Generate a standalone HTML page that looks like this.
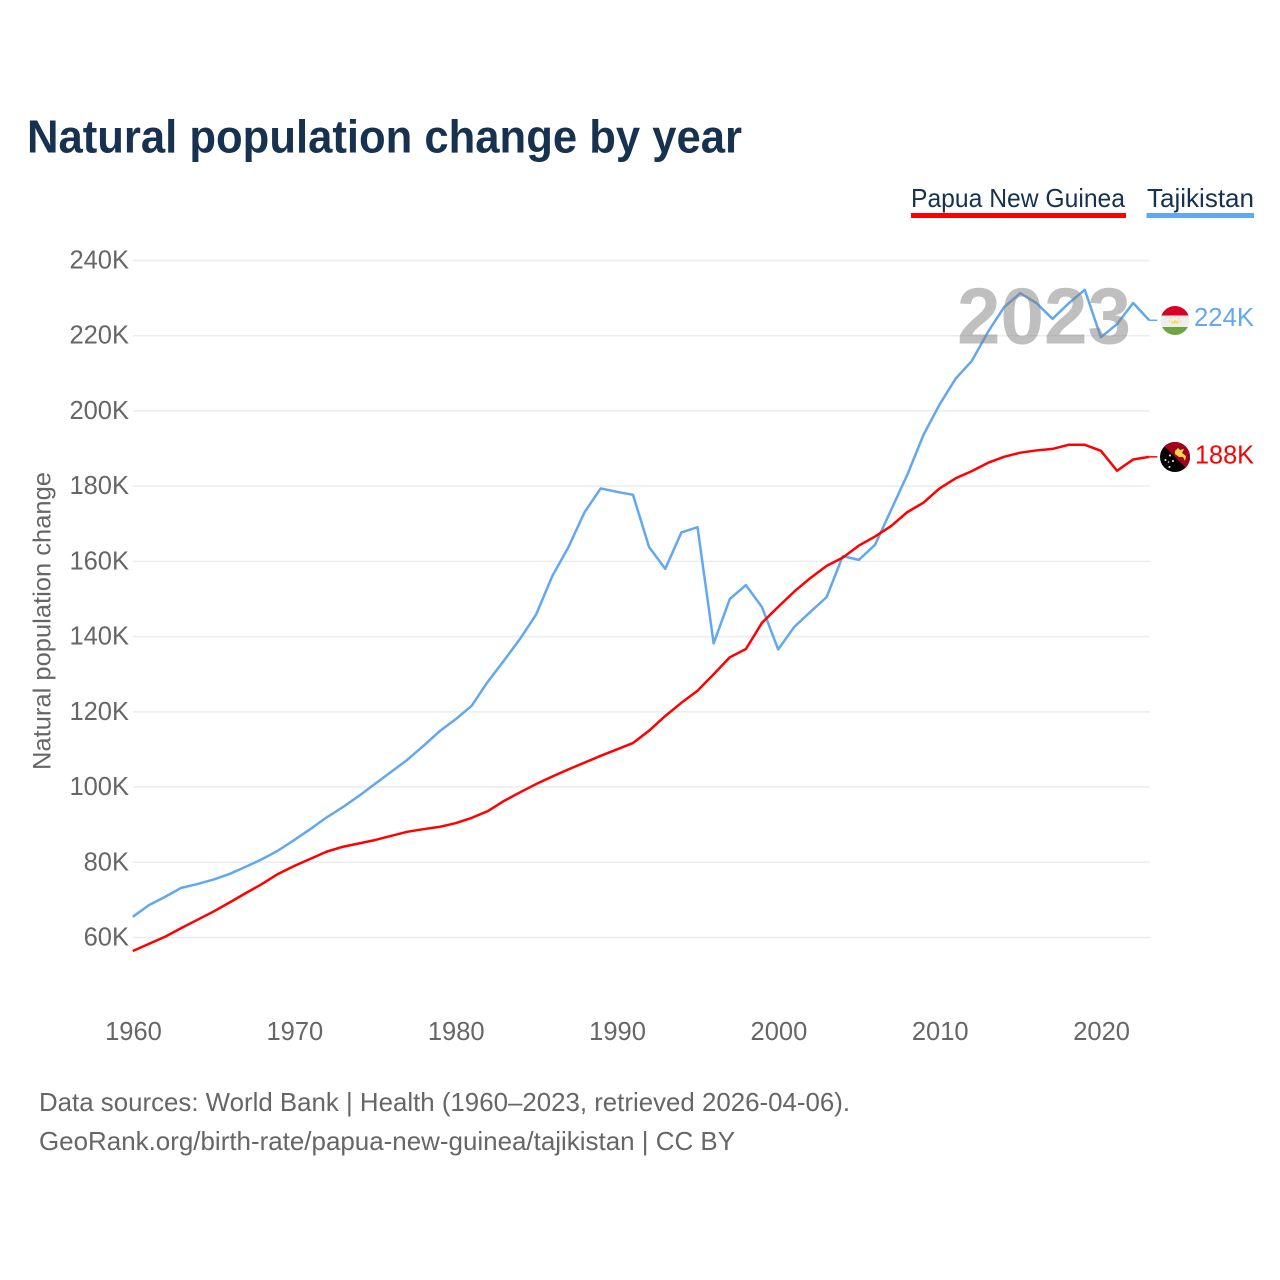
<!DOCTYPE html>
<html lang="en">
<head>
<meta charset="utf-8">
<title>Natural population change by year</title>
<style>
html,body{margin:0;padding:0;background:#fff;}
body{width:1280px;height:1280px;overflow:hidden;}
svg{display:block;font-family:"Liberation Sans",Arial,sans-serif;}
</style>
</head>
<body>
<svg id="chart" width="1280" height="1280" viewBox="0 0 1280 1280" xmlns="http://www.w3.org/2000/svg">
  <rect width="1280" height="1280" fill="#fff"/>
  <text x="27" y="152.500" font-size="46" font-weight="700" fill="#17324f" textLength="715" lengthAdjust="spacingAndGlyphs">Natural population change by year</text>

  <g>
    <g>
      <text x="911" y="207" font-size="26" fill="#17324f" textLength="214" lengthAdjust="spacingAndGlyphs">Papua New Guinea</text>
      <rect x="911" y="213" width="215" height="5" fill="#ff0000"/>
    </g>
    <g>
      <text x="1147" y="207" font-size="26" fill="#17324f" textLength="107" lengthAdjust="spacingAndGlyphs">Tajikistan</text>
      <rect x="1146.500" y="213" width="107.500" height="5" fill="#62a8ee"/>
    </g>
  </g>

  <g id="grid"></g>
  <g id="yticks"></g>
  <g id="xticks"></g>
  <text transform="translate(50.500,621) rotate(-90)" text-anchor="middle" font-size="25" fill="#666" textLength="298" lengthAdjust="spacingAndGlyphs">Natural population change</text>
  <g id="series"></g>

  <text x="957" y="343.500" font-size="80" font-weight="700" fill="#808080" fill-opacity="0.5" textLength="174" lengthAdjust="spacingAndGlyphs">2023</text>

  <defs>
    <clipPath id="clip-tj"><circle cx="1175" cy="320.500" r="14.500"/></clipPath>
    <clipPath id="clip-pg"><circle cx="1175" cy="457" r="15"/></clipPath>
  </defs>
  <g clip-path="url(#clip-tj)">
    <rect x="1160" y="305" width="30" height="10.500" fill="#d80027"/>
    <rect x="1160" y="315.500" width="30" height="11.500" fill="#eeeeee"/>
    <rect x="1160" y="327" width="30" height="10" fill="#6da544"/>
    <path d="M1171.500 323.500 L1172 320.500 L1173.500 322 L1175 319.500 L1176.500 322 L1178 320.500 L1178.500 323.500 Z" fill="#ffda44"/>
    <circle cx="1169.500" cy="321" r="0.800" fill="#ffda44"/>
    <circle cx="1171" cy="318" r="0.800" fill="#ffda44"/>
    <circle cx="1175" cy="316.800" r="0.800" fill="#ffda44"/>
    <circle cx="1179" cy="318" r="0.800" fill="#ffda44"/>
    <circle cx="1180.500" cy="321" r="0.800" fill="#ffda44"/>
  </g>
  <g clip-path="url(#clip-pg)">
    <rect x="1159" y="441" width="32" height="32" fill="#000"/>
    <path d="M1159 441 L1191 441 L1191 473 Z" fill="#a2001d"/>
    <path d="M1175 451 L1178 448 L1180 450 L1184 449 L1182 453 L1186 456 L1185 461 L1183 457 L1179 457 L1175 454 Z" fill="#ffda44"/>
    <circle cx="1170" cy="455.500" r="1" fill="#f0f0f0"/>
    <circle cx="1165.500" cy="460" r="1" fill="#f0f0f0"/>
    <circle cx="1173" cy="461" r="1" fill="#f0f0f0"/>
    <circle cx="1168.500" cy="462" r="0.800" fill="#f0f0f0"/>
    <circle cx="1169.500" cy="467" r="1" fill="#f0f0f0"/>
  </g>
  <text x="1194" y="326" font-size="26" fill="#62a8ee" textLength="60" lengthAdjust="spacingAndGlyphs">224K</text>
  <text x="1195" y="463.500" font-size="26" fill="#ff0000" textLength="59" lengthAdjust="spacingAndGlyphs">188K</text>

  <text x="39" y="1111" font-size="26" fill="#666" textLength="811" lengthAdjust="spacingAndGlyphs">Data sources: World Bank | Health (1960–2023, retrieved 2026-04-06).</text>
  <text x="39" y="1150" font-size="26" fill="#666" textLength="696" lengthAdjust="spacingAndGlyphs">GeoRank.org/birth-rate/papua-new-guinea/tajikistan | CC BY</text>
</svg>
<script>
const startYear = 1960;
const yTickValues = [60, 80, 100, 120, 140, 160, 180, 200, 220, 240];
const xTickValues = [1960, 1970, 1980, 1990, 2000, 2010, 2020];
const tajikistanValues = [65.5,68.6,70.8,73.2,74.2,75.4,76.9,78.8,80.8,83.1,85.9,88.8,91.9,94.6,97.6,100.8,104.0,107.2,110.9,114.8,118.0,121.6,128.0,133.6,139.4,145.9,156.1,163.8,173.1,179.4,178.5,177.7,163.8,158.0,167.7,169.1,138.2,150.0,153.7,147.8,136.6,142.6,146.6,150.5,161.4,160.4,164.4,173.7,183.0,193.6,201.7,208.6,213.3,221.0,227.6,231.3,228.7,224.5,228.6,232.2,219.6,223.1,228.7,224.1];
const papuaValues = [56.4,58.3,60.2,62.5,64.7,66.9,69.3,71.8,74.2,76.9,79.0,80.9,82.8,84.1,85.0,85.9,87.0,88.1,88.8,89.4,90.4,91.8,93.6,96.3,98.6,100.8,102.8,104.7,106.5,108.3,110.0,111.7,115.0,118.9,122.4,125.6,130.0,134.5,136.7,143.7,147.9,152.0,155.6,158.8,161.0,164.2,166.6,169.4,173.1,175.6,179.4,182.1,184.0,186.2,187.8,188.9,189.5,189.9,191.0,191.0,189.4,184.1,187.1,187.8];

const SVG_NS = 'http://www.w3.org/2000/svg';
const xScale = function (year) { return 132.8 + (year - 1960) * 16.135; };
const yScale = function (value) { return 937.5 - (value - 60) * (937.5 - 260.5) / 180; };
const make = function (tag) { return document.createElementNS(SVG_NS, tag); };

const gridGroup = document.getElementById('grid');
const yGroup = document.getElementById('yticks');
yTickValues.forEach(function (v) {
  const line = make('line');
  
  
  line.setAttribute('x1', 133);
  line.setAttribute('x2', 1150);
  line.setAttribute('y1', yScale(v));
  line.setAttribute('y2', yScale(v));
  line.setAttribute('stroke', '#ececec');
  line.setAttribute('stroke-width', 1.5);
  gridGroup.appendChild(line);

  const label = make('text');
  
  
  label.setAttribute('x', 129);
  label.setAttribute('y', yScale(v) + 8);
  label.setAttribute('text-anchor', 'end');
  label.setAttribute('font-size', 25.5);
  label.setAttribute('fill', '#666');
  label.textContent = v + 'K';
  yGroup.appendChild(label);
});

const xGroup = document.getElementById('xticks');
xTickValues.forEach(function (year) {
  const label = make('text');
  
  
  label.setAttribute('x', xScale(year) + 0.7);
  label.setAttribute('y', 1040);
  label.setAttribute('text-anchor', 'middle');
  label.setAttribute('font-size', 25.5);
  label.setAttribute('fill', '#666');
  label.textContent = year;
  xGroup.appendChild(label);
});

const seriesGroup = document.getElementById('series');
const linePoints = function (values) {
  return values.map(function (v, i) {
    return xScale(startYear + i).toFixed(2) + ',' + yScale(v).toFixed(2);
  }).join(' ');
};

const tajikLine = make('polyline');


tajikLine.setAttribute('points', linePoints(tajikistanValues));
tajikLine.setAttribute('fill', 'none');
tajikLine.setAttribute('stroke', '#62a8ee');
tajikLine.setAttribute('stroke-width', 2.5);
tajikLine.setAttribute('stroke-linejoin', 'round');
seriesGroup.appendChild(tajikLine);

const papuaLine = make('polyline');


papuaLine.setAttribute('points', linePoints(papuaValues));
papuaLine.setAttribute('fill', 'none');
papuaLine.setAttribute('stroke', '#ff0000');
papuaLine.setAttribute('stroke-width', 2.5);
papuaLine.setAttribute('stroke-linejoin', 'round');
seriesGroup.appendChild(papuaLine);

const lastX = xScale(startYear + tajikistanValues.length - 1);

const tajikConnector = make('line');


tajikConnector.setAttribute('x1', lastX);
tajikConnector.setAttribute('x2', lastX + 8);
tajikConnector.setAttribute('y1', yScale(tajikistanValues[tajikistanValues.length - 1]));
tajikConnector.setAttribute('y2', yScale(tajikistanValues[tajikistanValues.length - 1]));
tajikConnector.setAttribute('stroke', '#62a8ee');
tajikConnector.setAttribute('stroke-width', 1.5);
seriesGroup.appendChild(tajikConnector);

const papuaConnector = make('line');


papuaConnector.setAttribute('x1', lastX);
papuaConnector.setAttribute('x2', lastX + 8);
papuaConnector.setAttribute('y1', yScale(papuaValues[papuaValues.length - 1]));
papuaConnector.setAttribute('y2', yScale(papuaValues[papuaValues.length - 1]));
papuaConnector.setAttribute('stroke', '#ff0000');
papuaConnector.setAttribute('stroke-width', 1.5);
seriesGroup.appendChild(papuaConnector);
</script>
</body>
</html>
